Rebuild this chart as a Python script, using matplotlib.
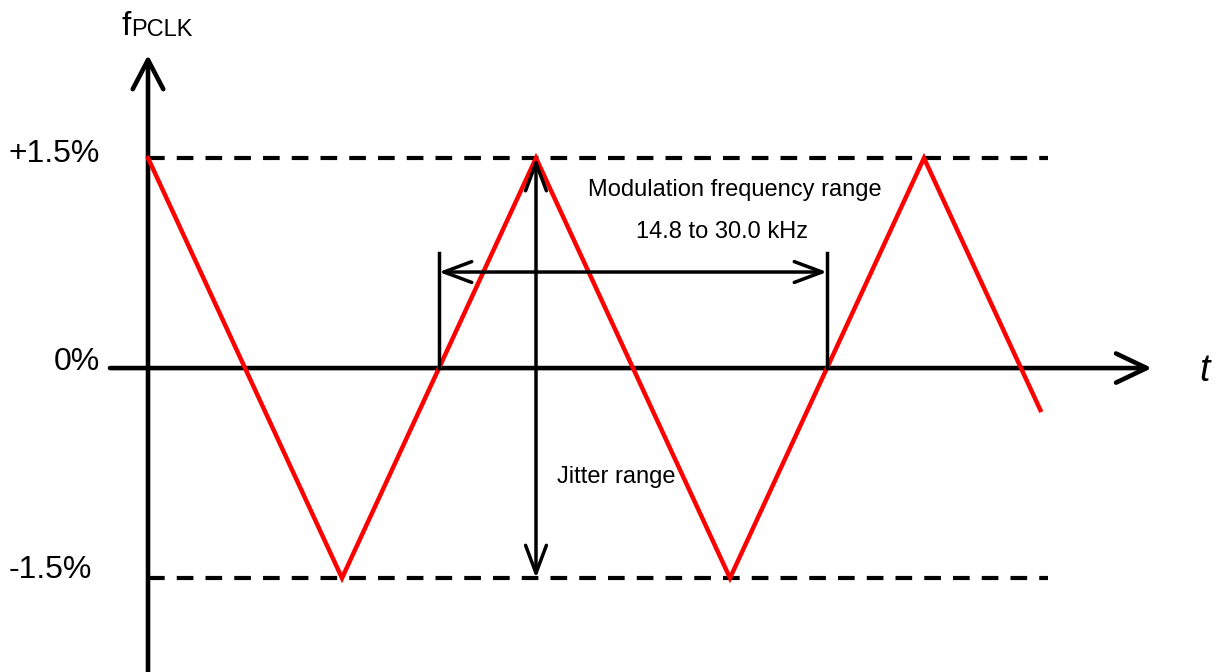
import matplotlib
matplotlib.use("Agg")
import matplotlib.pyplot as plt
from matplotlib.patches import FancyArrowPatch

plt.rcParams['font.family'] = ['Liberation Sans', 'DejaVu Sans']

# triangle modulation, time in half-periods, frequency deviation in %
t_pts = [0, 1, 2, 3, 4, 4.6]
f_pts = [1.5, -1.5, 1.5, -1.5, 1.5, -0.3]
dev = 1.5
tick_vals = [1.5, 0, -1.5]
tick_labels = ['+1.5%', '0%', '-1.5%']
mod_span = (1.5, 3.5)   # one full period between zero crossings

fig = plt.figure(figsize=(12.2, 6.72), dpi=100)
ax = fig.add_axes([0, 0, 1, 1])
ax.set_xlim(-0.763, 5.526)
ax.set_ylim(-2.171, 2.629)
ax.axis('off')

# limit lines
for v in (dev, -dev):
    ax.plot([0, 4.64], [v, v], color='black', lw=3, ls=(0, (4.0, 2.9)),
            solid_capstyle='butt', dash_capstyle='butt')

# axes with open arrow heads
ya = FancyArrowPatch((0, -2.3), (0, 2.236), arrowstyle='->,head_length=21,head_width=11',
                     lw=3.3, color='black', shrinkA=0, shrinkB=0,
                     capstyle='round', clip_on=False)
ax.add_patch(ya)
xa = FancyArrowPatch((-0.196, 0), (5.175, 0), arrowstyle='->,head_length=22,head_width=10.5',
                     lw=3.3, color='black', shrinkA=0, shrinkB=0,
                     capstyle='round', clip_on=False)
ax.add_patch(xa)

# red frequency curve
ax.plot(t_pts, f_pts, color='#ff0000', lw=3.2, solid_joinstyle='miter', zorder=3)

# jitter range arrow
ja = FancyArrowPatch((t_pts[2], -dev), (t_pts[2], dev), arrowstyle='<->,head_length=20,head_width=7.5',
                     lw=2.5, color='black', shrinkA=0, shrinkB=0, capstyle='round', zorder=4)
ax.add_patch(ja)

# modulation period arrow + end marks
ma = FancyArrowPatch((mod_span[0], 0.686), (mod_span[1], 0.686),
                     arrowstyle='<->,head_length=20,head_width=7.5',
                     lw=2.5, color='black', shrinkA=0, shrinkB=0, capstyle='round', zorder=4)
ax.add_patch(ma)
for x in mod_span:
    ax.plot([x, x], [0, 0.82], color='black', lw=2.5, zorder=4)

# tick labels
ax.text(-0.247, 1.471, tick_labels[0], ha='right', va='baseline', fontsize=23)
ax.text(-0.247, -0.014, tick_labels[1], ha='right', va='baseline', fontsize=23)
ax.text(-0.289, -1.50, tick_labels[2], ha='right', va='baseline', fontsize=23)

# axis titles
ft = ax.text(-0.139, 2.379, 'f', ha='left', va='baseline', fontsize=24)
ax.annotate('PCLK', xy=(1, 0), xycoords=ft, xytext=(0.5, 1), textcoords='offset points',
            ha='left', va='bottom', fontsize=17)
ax.text(5.448, -0.093, 't', ha='center', va='baseline', fontsize=27, style='italic')

# annotations
ax.text(3.026, 1.229, 'Modulation frequency range', ha='center', va='baseline', fontsize=17)
ax.text(2.959, 0.929, '14.8 to 30.0 kHz', ha='center', va='baseline', fontsize=17)
ax.text(2.108, -0.821, 'Jitter range', ha='left', va='baseline', fontsize=17)

fig.savefig('out.png', dpi=100)
